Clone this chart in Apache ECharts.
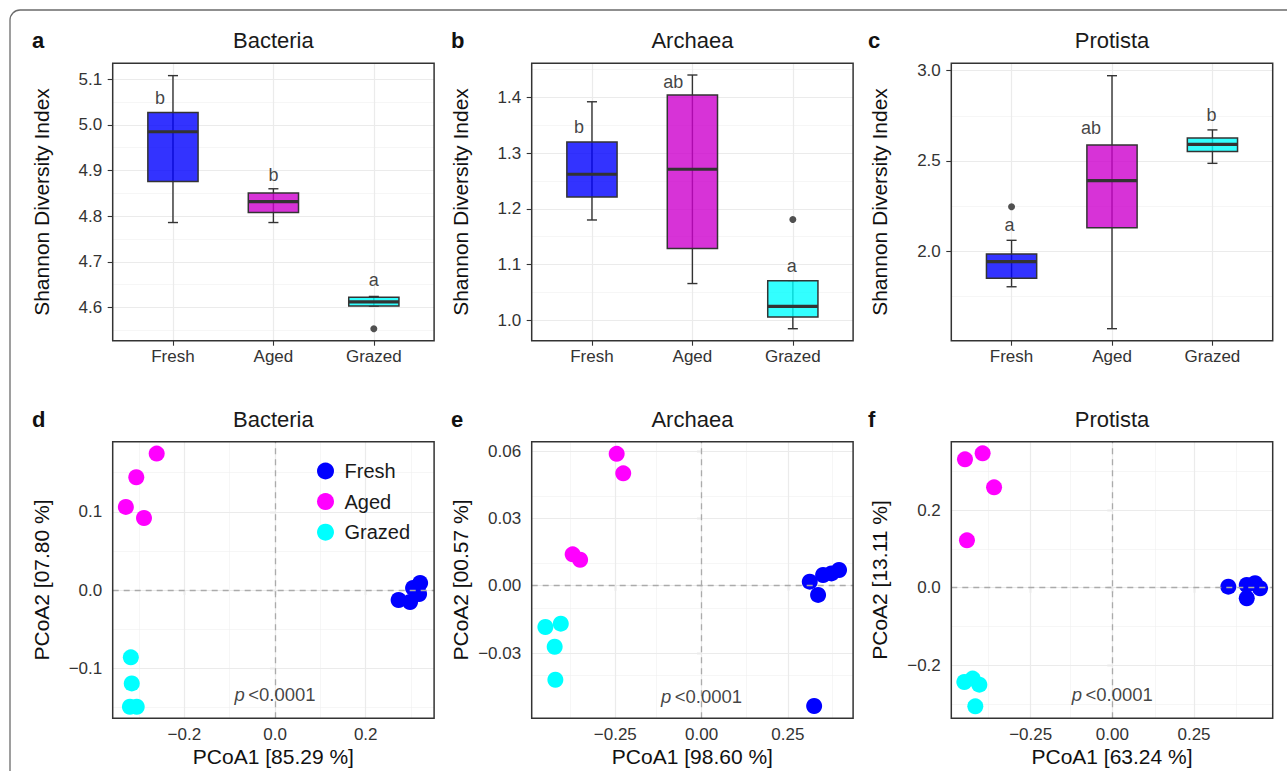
<!DOCTYPE html>
<html><head><meta charset="utf-8">
<script src="https://cdn.jsdelivr.net/npm/echarts@6/dist/echarts.min.js"></script>
<style>html,body{margin:0;padding:0;background:#fff}#chart{width:1287px;height:771px}</style>
</head><body><div id="chart"></div>
<script>
// ================= DATA =================
const groups = ['Fresh', 'Aged', 'Grazed'];

// Box statistics per group: [min whisker, Q1, median, Q3, max whisker]
const bacteriaBox = [[4.786, 4.876, 4.985, 5.027, 5.108], [4.786, 4.808, 4.832, 4.851, 4.860], [4.603, 4.603, 4.612, 4.622, 4.624]];
const archaeaBox  = [[1.180, 1.221, 1.262, 1.320, 1.392], [1.066, 1.129, 1.271, 1.404, 1.440], [0.985, 1.006, 1.025, 1.071, 1.071]];
const protistaBox = [[1.804, 1.851, 1.943, 1.985, 2.061], [1.572, 2.131, 2.391, 2.589, 2.972], [2.487, 2.552, 2.592, 2.627, 2.672]];

// Outliers: [group position, value]
const bacteriaOutliers = [[3, 4.553]];
const archaeaOutliers  = [[3, 1.181]];
const protistaOutliers = [[1, 2.247]];

// Significance letters: [letter, x position, y value]
const bacteriaLetters = [['b', 0.87, 5.058], ['b', 2.0, 4.891], ['a', 3.0, 4.659]];
const archaeaLetters  = [['b', 0.87, 1.346], ['ab', 1.81, 1.427], ['a', 2.99, 1.097]];
const protistaLetters = [['a', 0.98, 2.146], ['ab', 1.79, 2.683], ['b', 2.99, 2.753]];

// Tick labels
const bacteriaYTicks = ['4.6', '4.7', '4.8', '4.9', '5.0', '5.1'];
const archaeaYTicks  = ['1.0', '1.1', '1.2', '1.3', '1.4'];
const protistaYTicks = ['2.0', '2.5', '3.0'];

const pcoaBactXTicks = ['\u22120.2', '0.0', '0.2'];
const pcoaBactYTicks = ['\u22120.1', '0.0', '0.1'];
const pcoaArchXTicks = ['\u22120.25', '0.00', '0.25'];
const pcoaArchYTicks = ['\u22120.03', '0.00', '0.03', '0.06'];
const pcoaProtXTicks = ['\u22120.25', '0.00', '0.25'];
const pcoaProtYTicks = ['\u22120.2', '0.0', '0.2'];

// PCoA points [PCoA1, PCoA2]
const bactFresh  = [[0.2725, -0.0128], [0.2978, -0.0153], [0.3044, 0.0026], [0.3200, 0.0090], [0.3177, -0.0051]];
const bactAged   = [[-0.261, 0.1744], [-0.306, 0.1441], [-0.329, 0.1062], [-0.289, 0.0921]];
const bactGrazed = [[-0.318, -0.0861], [-0.316, -0.1194], [-0.320, -0.1493], [-0.305, -0.1493]];

const archFresh  = [[0.3136, 0.0018], [0.3377, -0.0041], [0.3522, 0.0048], [0.3765, 0.0055], [0.3985, 0.0070], [0.3263, -0.0536]];
const archAged   = [[-0.246, 0.0588], [-0.227, 0.0501], [-0.3736, 0.0140], [-0.352, 0.0116]];
const archGrazed = [[-0.4527, -0.0184], [-0.408, -0.0169], [-0.4257, -0.0272], [-0.4237, -0.0419]];

const protFresh  = [[0.355, 0.0026], [0.4114, 0.0070], [0.4368, 0.0113], [0.452, -0.0015], [0.4114, -0.0273]];
const protAged   = [[-0.451, 0.3305], [-0.397, 0.346], [-0.362, 0.2584], [-0.445, 0.1219]];
const protGrazed = [[-0.453, -0.243], [-0.4276, -0.2343], [-0.407, -0.2498], [-0.4194, -0.3056]];

const pText = ['p', '<0.0001'];
const pPos = { bacteria: [0, -0.134], archaea: [0, -0.0492], protista: [0, -0.2763] };

const xTitles = ['PCoA1 [85.29 %]', 'PCoA1 [98.60 %]', 'PCoA1 [63.24 %]'];
const yTitles = ['PCoA2 [07.80 %]', 'PCoA2 [00.57 %]', 'PCoA2 [13.11 %]'];
const panelTitles = ['Bacteria', 'Archaea', 'Protista'];
const panelLetters = ['a', 'b', 'c', 'd', 'e', 'f'];

// ================= STYLE / LAYOUT =================
const FONT = '"Liberation Sans", Arial, Helvetica, sans-serif';
const boxFill = ['rgba(0,0,255,0.8)', 'rgba(205,0,205,0.8)', 'rgba(0,255,255,0.8)'];
const pointColor = { Fresh: '#0000FF', Aged: '#FF00FF', Grazed: '#00FFFF' };
const GRID_LEFT = [112.7, 531.7, 951.3];
const GRID_W = 321.4;
const ROW_TOP = [63.3, 441.7];
const ROW_H = [277.4, 276.6];
const TITLE_Y = [40.7, 419.3];
const LETTER_X = [32, 451, 868];
const BOX_W = 0.5, CAP_W = 0.1;

const yRanges = [[4.527, 5.135], [0.9635, 1.461], [1.5055, 3.0406]];
const pcoaX = [[-0.358, 0.3508], [-0.4923, 0.4392], [-0.4929, 0.4908]];
const pcoaY = [[-0.164, 0.1896], [-0.0591, 0.0642], [-0.3365, 0.376]];

// ================= HELPERS =================
const toNum = s => parseFloat(String(s).replace('\u2212', '-'));
const tickVals = labels => labels.map(toNum);
const fmtFor = labels => {
  const vals = tickVals(labels);
  return v => { const i = vals.findIndex(t => Math.abs(t - v) < 1e-9); return i >= 0 ? labels[i] : ''; };
};
function minorVals(vals, range) {
  const out = [];
  const step = vals[1] - vals[0];
  for (let i = -1; i < vals.length; i++) {
    const m = vals[0] + step * (i + 0.5);
    if (m > range[0] && m < range[1]) out.push(+m.toFixed(6));
  }
  return out;
}
const HIDDEN = { color: 'rgba(0,0,0,0)', borderWidth: 0 };

const grids = [], xAxes = [], yAxes = [], series = [], titles = [];

function baseAxis(gi, labels, fmt, extra) {
  return Object.assign({
    gridIndex: gi, type: 'value', scale: true,
    axisLine: { show: false },
    axisTick: { show: true, length: 5, customValues: labels, lineStyle: { color: '#333', width: 1.1 } },
    axisLabel: { customValues: labels, formatter: fmt, fontSize: 17, color: '#333', fontFamily: FONT },
    splitLine: { show: false },
    minorSplitLine: { show: false },
    nameLocation: 'middle', nameMoveOverlap: false,
    nameTextStyle: { fontSize: 21, color: '#111', fontFamily: FONT }
  }, extra);
}

function gridLines(gi, majX, minX, majY, minY) {
  const maj = { color: '#EBEBEB', width: 1.2, type: 'solid' };
  const mn = { color: '#F0F0F0', width: 0.6, type: 'solid' };
  const d = [];
  minX.forEach(v => d.push({ xAxis: v, lineStyle: mn }));
  minY.forEach(v => d.push({ yAxis: v, lineStyle: mn }));
  majX.forEach(v => d.push({ xAxis: v, lineStyle: maj }));
  majY.forEach(v => d.push({ yAxis: v, lineStyle: maj }));
  series.push({
    type: 'scatter', xAxisIndex: gi, yAxisIndex: gi, data: [], silent: true, z: 1,
    markLine: { z: 1, silent: true, symbol: ['none', 'none'], animation: false, label: { show: false },
      emphasis: { disabled: true }, data: d }
  });
}

function renderBox(params, api) {
  const x = api.value(0);
  const lo = api.coord([x, api.value(1)]);
  const q1 = api.coord([x, api.value(2)]);
  const md = api.coord([x, api.value(3)]);
  const q3 = api.coord([x, api.value(4)]);
  const hi = api.coord([x, api.value(5)]);
  const bw = api.size([BOX_W, 0])[0];
  const cw = api.size([CAP_W, 0])[0];
  const fill = boxFill[Math.round(x) - 1];
  const stroke = { stroke: '#333', lineWidth: 1.4 };
  return {
    type: 'group', children: [
      { type: 'line', shape: { x1: lo[0], y1: lo[1], x2: hi[0], y2: hi[1] }, style: stroke },
      { type: 'line', shape: { x1: lo[0] - cw / 2, y1: lo[1], x2: lo[0] + cw / 2, y2: lo[1] }, style: stroke },
      { type: 'line', shape: { x1: hi[0] - cw / 2, y1: hi[1], x2: hi[0] + cw / 2, y2: hi[1] }, style: stroke },
      { type: 'rect', shape: { x: q3[0] - bw / 2, y: q3[1], width: bw, height: q1[1] - q3[1] },
        style: { fill: fill, stroke: '#333', lineWidth: 1.5 } },
      { type: 'line', shape: { x1: md[0] - bw / 2, y1: md[1], x2: md[0] + bw / 2, y2: md[1] },
        style: { stroke: '#333', lineWidth: 3.2 } }
    ]
  };
}

// ================= BOX PANELS (a, b, c) =================
const boxSets = [bacteriaBox, archaeaBox, protistaBox];
const outSets = [bacteriaOutliers, archaeaOutliers, protistaOutliers];
const letterSets = [bacteriaLetters, archaeaLetters, protistaLetters];
const boxYTicks = [bacteriaYTicks, archaeaYTicks, protistaYTicks];
const catPos = groups.map((g, i) => i + 1);

for (let p = 0; p < 3; p++) {
  const gi = p;
  grids.push({ left: GRID_LEFT[p], top: ROW_TOP[0], width: GRID_W, height: ROW_H[0],
    show: true, borderColor: '#333', borderWidth: 1.5, backgroundColor: 'transparent', z: 10,
    containLabel: false, outerBoundsMode: 'none' });
  xAxes.push(baseAxis(gi, catPos, v => groups[Math.round(v) - 1] || '', { min: 0.4, max: 3.6 }));
  xAxes[gi].axisLabel.margin = 7;
  const yt = tickVals(boxYTicks[p]);
  yAxes.push(baseAxis(gi, yt, fmtFor(boxYTicks[p]), {
    min: yRanges[p][0], max: yRanges[p][1], name: 'Shannon Diversity Index', nameGap: 61 }));
  yAxes[gi].axisLabel.margin = 10.5;
  gridLines(gi, catPos, [], yt, minorVals(yt, yRanges[p]));
  series.push({
    type: 'custom', name: panelTitles[p] + ' boxes', xAxisIndex: gi, yAxisIndex: gi, z: 3,
    renderItem: renderBox, encode: { x: 0, y: [1, 2, 3, 4, 5] }, silent: true,
    data: boxSets[p].map((s, i) => [catPos[i]].concat(s))
  });
  series.push({
    type: 'scatter', name: panelTitles[p] + ' outliers', xAxisIndex: gi, yAxisIndex: gi, z: 4,
    symbolSize: 7, itemStyle: { color: '#505050', opacity: 1 }, silent: true, data: outSets[p]
  });
  series.push({
    type: 'scatter', name: panelTitles[p] + ' letters', xAxisIndex: gi, yAxisIndex: gi, z: 5,
    symbolSize: 2, itemStyle: HIDDEN, silent: true,
    label: { show: true, position: 'inside', formatter: '{b}', fontSize: 18, color: '#111',
      textBorderWidth: 0, fontFamily: FONT },
    labelLayout: { hideOverlap: false },
    data: letterSets[p].map(l => ({ name: l[0], value: [l[1], l[2]] }))
  });
}

// ================= PCoA PANELS (d, e, f) =================
const pcoaSets = [[bactFresh, bactAged, bactGrazed], [archFresh, archAged, archGrazed], [protFresh, protAged, protGrazed]];
const pcoaXT = [pcoaBactXTicks, pcoaArchXTicks, pcoaProtXTicks];
const pcoaYT = [pcoaBactYTicks, pcoaArchYTicks, pcoaProtYTicks];
const pKeys = ['bacteria', 'archaea', 'protista'];

for (let p = 0; p < 3; p++) {
  const gi = 3 + p;
  grids.push({ left: GRID_LEFT[p], top: ROW_TOP[1], width: GRID_W, height: ROW_H[1],
    show: true, borderColor: '#333', borderWidth: 1.5, backgroundColor: 'transparent', z: 10,
    containLabel: false, outerBoundsMode: 'none' });
  const xt = tickVals(pcoaXT[p]), yt = tickVals(pcoaYT[p]);
  xAxes.push(baseAxis(gi, xt, fmtFor(pcoaXT[p]), { min: pcoaX[p][0], max: pcoaX[p][1], name: xTitles[p], nameGap: 28 }));
  xAxes[gi].axisLabel.margin = 8;
  yAxes.push(baseAxis(gi, yt, fmtFor(pcoaYT[p]), { min: pcoaY[p][0], max: pcoaY[p][1], name: yTitles[p], nameGap: 61 }));
  yAxes[gi].axisLabel.margin = 10.5;
  gridLines(gi, xt, minorVals(xt, pcoaX[p]), yt, minorVals(yt, pcoaY[p]));
  groups.forEach((g, k) => {
    series.push({
      type: 'scatter', name: g, xAxisIndex: gi, yAxisIndex: gi, z: 3, symbolSize: 16,
      itemStyle: { color: pointColor[g], opacity: 1 }, emphasis: { disabled: true },
      data: pcoaSets[p][k]
    });
  });
  series.push({
    type: 'scatter', xAxisIndex: gi, yAxisIndex: gi, data: [], silent: true, z: 6,
    markLine: { z: 6, silent: true, symbol: ['none', 'none'], animation: false, label: { show: false },
      emphasis: { disabled: true },
      lineStyle: { color: '#ABABAB', width: 1.3, type: [6, 5] },
      data: [{ xAxis: 0 }, { yAxis: 0 }] }
  });
  series.push({
    type: 'scatter', xAxisIndex: gi, yAxisIndex: gi, z: 7, symbolSize: 2, itemStyle: HIDDEN, silent: true,
    label: { show: true, position: 'inside', formatter: '{i|' + pText[0] + '} {n|' + pText[1] + '}',
      textBorderWidth: 0,
      rich: { i: { fontStyle: 'italic', fontSize: 18.5, color: '#111', fontFamily: FONT },
              n: { fontSize: 18.5, color: '#111', fontFamily: FONT } } },
    labelLayout: { hideOverlap: false },
    data: [pPos[pKeys[p]]]
  });
}

// ================= TITLES =================
for (let r = 0; r < 2; r++) {
  for (let p = 0; p < 3; p++) {
    titles.push({ text: panelTitles[p], left: GRID_LEFT[p] + GRID_W / 2, top: TITLE_Y[r], textAlign: 'center',
      textVerticalAlign: 'middle', padding: 0,
      textStyle: { fontSize: 22, fontWeight: 'normal', color: '#1a1a1a', fontFamily: FONT } });
    titles.push({ text: panelLetters[r * 3 + p], left: LETTER_X[p], top: TITLE_Y[r], textAlign: 'left',
      textVerticalAlign: 'middle', padding: 0,
      textStyle: { fontSize: 22, fontWeight: 'bold', color: '#111', fontFamily: FONT } });
  }
}

const chart = echarts.init(document.getElementById('chart'), null, { renderer: 'svg' });
chart.setOption({
  backgroundColor: '#fff',
  animation: false,
  textStyle: { fontFamily: FONT },
  title: titles,
  tooltip: { show: false },
  legend: {
    data: groups, orient: 'vertical', left: 317, top: 461, itemWidth: 28, itemHeight: 17, itemGap: 10.6,
    icon: 'circle', padding: 0, selectedMode: false,
    textStyle: { fontSize: 20, color: '#1a1a1a', fontFamily: FONT }
  },
  graphic: [{
    type: 'rect', silent: true, z: 100,
    shape: { x: 10, y: 10, width: 1400, height: 900, r: 10 },
    style: { fill: 'none', stroke: '#6b6b6b', lineWidth: 1.3 }
  }],
  grid: grids,
  xAxis: xAxes,
  yAxis: yAxes,
  series: series
});
</script>
</body></html>
